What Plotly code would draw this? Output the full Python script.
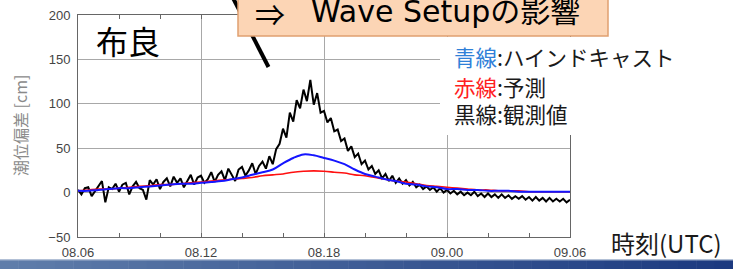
import plotly.graph_objects as go
import pandas as pd

# ---------------- data ----------------
start_time = "2019-09-08 06:00"
end_time = "2019-09-09 06:00"
obs_times = pd.date_range(start_time, end_time, freq="10min")
model_times = pd.date_range(start_time, end_time, freq="30min")

# observed storm surge (black, 10-min)
observed = [
    3, -2, 5, 6, -4, 2,
    8, 13, -11, 6, 4, 10,
    1, 9, 11, -2, 7, 12,
    5, 3, -8, 14, 9, 15,
    4, 12, 16, 7, 18, 11,
    16, 6, 13, 20, 9, 17,
    19, 11, 15, 23, 12, 20,
    24, 14, 27, 20, 13, 26,
    29, 19, 25, 33, 21, 30,
    35, 27, 41, 32, 49, 55,
    72, 62, 90, 80, 104, 95,
    116, 103, 127, 99, 112, 90,
    92, 79, 84, 69, 71, 58,
    61, 47, 52, 40, 44, 32,
    36, 26, 30, 21, 25, 16,
    21, 13, 19, 11, 16, 10,
    14, 8, 12, 6, 9, 4,
    7, 3, 6, 1, 5, 0,
    3, -1, 2, -2, 1, -3,
    0, -3, 1, -4, -1, -5,
    -1, -5, -2, -6, -2, -6,
    -3, -7, -4, -7, -4, -8,
    -5, -9, -5, -9, -6, -10,
    -6, -10, -7, -10, -7, -11,
    -8,
]

# hindcast (blue, 30-min)
hindcast = [
    2, 2, 3, 4, 5, 5, 6, 7, 8, 9, 10, 10, 11, 12, 13, 15, 17, 20, 23, 26,
    33, 39, 43, 42, 39, 36, 32, 26, 21, 18, 15, 13, 10, 9, 7, 6, 4, 4, 3, 3,
    2, 2, 2, 1, 1, 1, 1, 1, 1,
]

# forecast (red, 30-min)
forecast = [
    2, 3, 4, 4, 5, 6, 7, 8, 9, 9, 10, 11, 12, 13, 14, 15, 16, 17, 19, 20,
    21, 23, 24, 24.5, 24, 23, 22, 20, 19, 17, 15, 13, 12, 10, 8, 7, 6, 5, 4, 3,
    3, 2, 2, 2, 1, 1, 1, 1, 1,
]

y_ticks = [-50, 0, 50, 100, 150, 200]

# ---------------- layout helpers ----------------
W, H = 733, 269
L, R, T, B = 78, 570, 15, 237


def px(x):
    return (x - L) / (R - L)


def py(y):
    return (B - y) / (B - T)


fig = go.Figure()
fig.add_trace(go.Scatter(x=obs_times, y=observed, mode="lines",
                         line=dict(color="#000000", width=2), name="観測値"))
fig.add_trace(go.Scatter(x=model_times, y=forecast, mode="lines",
                         line=dict(color="#FF1010", width=1.6, shape="spline"), name="予測"))
fig.add_trace(go.Scatter(x=model_times, y=hindcast, mode="lines",
                         line=dict(color="#1515FF", width=2, shape="spline"), name="ハインドキャスト"))

shapes = []
# white block behind legend text
shapes.append(dict(type="rect", xref="paper", yref="paper",
                   x0=px(440), x1=px(740), y0=py(135), y1=py(37),
                   fillcolor="white", line=dict(width=0), layer="above"))
# pointer line (behind callout)
shapes.append(dict(type="line", xref="paper", yref="paper",
                   x0=px(233), y0=py(-2), x1=px(268.5), y1=py(67),
                   line=dict(color="black", width=4), layer="above"))
# callout box
shapes.append(dict(type="rect", xref="paper", yref="paper",
                   x0=px(238), x1=px(608), y0=py(36), y1=py(-6),
                   fillcolor="#FCD5B5", line=dict(color="#E0A070", width=1.5), layer="above"))
# bottom gradient band
n = 40
c0 = (95, 125, 170)
c1 = (28, 58, 128)
for i in range(n):
    t = i / (n - 1)
    c = tuple(int(round(c0[k] + (c1[k] - c0[k]) * t)) for k in range(3))
    shapes.append(dict(type="rect", xref="paper", yref="paper",
                       x0=px(i * W / n), x1=px((i + 1) * W / n + 0.5),
                       y0=py(270), y1=py(260),
                       fillcolor="rgb(%d,%d,%d)" % c, line=dict(width=0), layer="above"))
shapes.append(dict(type="rect", xref="paper", yref="paper",
                   x0=px(0), x1=px(W), y0=py(260.5), y1=py(259),
                   fillcolor="rgba(170,185,210,0.9)", line=dict(width=0), layer="above"))

cjk = "Noto Sans CJK JP"
ann = []
ann.append(dict(text="布良", x=px(128), y=py(40), xref="paper", yref="paper",
                showarrow=False, font=dict(family=cjk, size=32, color="black"),
                xanchor="center", yanchor="middle"))
ann.append(dict(text="⇒", x=px(270), y=py(13), xref="paper", yref="paper",
                showarrow=False, font=dict(family=cjk, size=30, color="black"),
                xanchor="center", yanchor="middle"))
ann.append(dict(text="Wave Setupの影響", x=px(309), y=py(12), xref="paper", yref="paper",
                showarrow=False, font=dict(family="DejaVu Sans, " + cjk, size=30, color="black"),
                xanchor="left", yanchor="middle"))
legend_lines = [
    ("<span style='color:#2F80D8'>青線</span>:ハインドキャスト", 56.5),
    ("<span style='color:#FF2020'>赤線</span>:予測", 86.5),
    ("黒線:観測値", 113.5),
]
for txt, yy in legend_lines:
    ann.append(dict(text=txt, x=px(452), y=py(yy), xref="paper", yref="paper",
                    showarrow=False, font=dict(family=cjk, size=21.5, color="#1a1a1a"),
                    xanchor="left", yanchor="middle"))
ann.append(dict(text="時刻(UTC)", x=px(666), y=py(242), xref="paper", yref="paper",
                showarrow=False, font=dict(family=cjk, size=24, color="#1a1a1a"),
                xanchor="center", yanchor="middle"))
ann.append(dict(text="潮位偏差 [cm]", x=px(20), y=py(126), xref="paper", yref="paper",
                showarrow=False, textangle=-90,
                font=dict(family=cjk, size=16, color="#8a8a8a"),
                xanchor="center", yanchor="middle"))

fig.update_layout(
    width=W, height=H,
    margin=dict(l=L, r=W - R, t=T, b=H - B, pad=0, autoexpand=False),
    paper_bgcolor="white", plot_bgcolor="white",
    showlegend=False,
    font=dict(family="Liberation Sans, Arial", size=13, color="#444"),
    shapes=shapes, annotations=ann,
)
fig.update_xaxes(
    type="date",
    automargin=False,
    range=[start_time, end_time],
    dtick=6 * 3600 * 1000, tick0=start_time,
    tickformat="%d.%H",
    showgrid=True, gridcolor="#a8a8a8", gridwidth=1,
    showline=True, linecolor="#666", linewidth=1, mirror="ticks",
    ticks="inside", ticklen=4, tickcolor="#666",
    minor=dict(dtick=2 * 3600 * 1000, ticks="inside", ticklen=4, tickcolor="#666", showgrid=False),
    ticklabelstandoff=3,
    tickfont=dict(size=13, color="#444"),
    zeroline=False,
)
fig.update_yaxes(
    automargin=False,
    range=[-50, 200], tickvals=y_ticks,
    showgrid=True, gridcolor="#a8a8a8", gridwidth=1,
    showline=True, linecolor="#666", linewidth=1, mirror=True,
    ticks="", zeroline=False,
    ticklabelstandoff=4,
    tickfont=dict(size=13, color="#444"),
)

fig.write_html(
    "out.html",
    config={"displayModeBar": False},
    post_script="document.body.style.margin='0';document.body.style.overflow='hidden';",
)
